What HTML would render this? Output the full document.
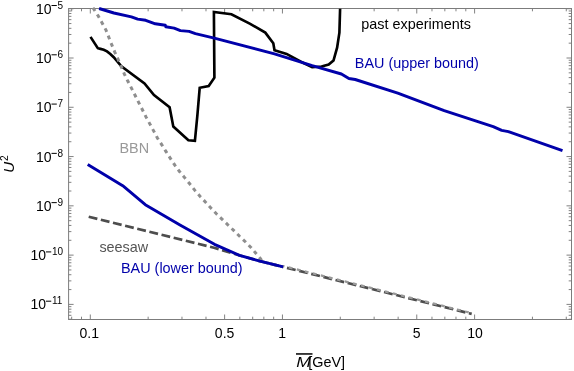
<!DOCTYPE html>
<html><head><meta charset="utf-8"><title>plot</title>
<style>
html,body{margin:0;padding:0;background:#fff;}
svg{display:block;font-family:"Liberation Sans",sans-serif;will-change:transform;opacity:0.999;}
</style></head>
<body>
<svg width="574" height="371" viewBox="0 0 574 371">
<rect width="574" height="371" fill="#fff"/>
<defs><clipPath id="c"><rect x="68.6" y="6.9" width="502.9" height="312.6"/></clipPath></defs>
<path d="M71.68 319.50v-2.8M71.68 8.50v2.8M81.51 319.50v-2.8M81.51 8.50v2.8M90.30 319.50v-5.0M90.30 8.50v5.0M148.14 319.50v-2.8M148.14 8.50v2.8M181.98 319.50v-2.8M181.98 8.50v2.8M205.99 319.50v-2.8M205.99 8.50v2.8M224.61 319.50v-5.0M224.61 8.50v5.0M239.82 319.50v-2.8M239.82 8.50v2.8M252.69 319.50v-2.8M252.69 8.50v2.8M263.83 319.50v-2.8M263.83 8.50v2.8M273.66 319.50v-2.8M273.66 8.50v2.8M282.45 319.50v-5.0M282.45 8.50v5.0M340.29 319.50v-2.8M340.29 8.50v2.8M374.13 319.50v-2.8M374.13 8.50v2.8M398.14 319.50v-2.8M398.14 8.50v2.8M416.76 319.50v-5.0M416.76 8.50v5.0M431.97 319.50v-2.8M431.97 8.50v2.8M444.84 319.50v-2.8M444.84 8.50v2.8M455.98 319.50v-2.8M455.98 8.50v2.8M465.81 319.50v-2.8M465.81 8.50v2.8M474.60 319.50v-5.0M474.60 8.50v5.0M532.44 319.50v-2.8M532.44 8.50v2.8M566.28 319.50v-2.8M566.28 8.50v2.8M68.60 319.23h2.8M571.50 319.23h-2.8M68.60 315.33h2.8M571.50 315.33h-2.8M68.60 312.03h2.8M571.50 312.03h-2.8M68.60 309.18h2.8M571.50 309.18h-2.8M68.60 306.65h2.8M571.50 306.65h-2.8M68.60 304.40h5.0M571.50 304.40h-5.0M68.60 289.57h2.8M571.50 289.57h-2.8M68.60 280.89h2.8M571.50 280.89h-2.8M68.60 274.73h2.8M571.50 274.73h-2.8M68.60 269.95h2.8M571.50 269.95h-2.8M68.60 266.05h2.8M571.50 266.05h-2.8M68.60 262.75h2.8M571.50 262.75h-2.8M68.60 259.90h2.8M571.50 259.90h-2.8M68.60 257.37h2.8M571.50 257.37h-2.8M68.60 255.12h5.0M571.50 255.12h-5.0M68.60 240.29h2.8M571.50 240.29h-2.8M68.60 231.61h2.8M571.50 231.61h-2.8M68.60 225.45h2.8M571.50 225.45h-2.8M68.60 220.67h2.8M571.50 220.67h-2.8M68.60 216.77h2.8M571.50 216.77h-2.8M68.60 213.47h2.8M571.50 213.47h-2.8M68.60 210.62h2.8M571.50 210.62h-2.8M68.60 208.09h2.8M571.50 208.09h-2.8M68.60 205.84h5.0M571.50 205.84h-5.0M68.60 191.01h2.8M571.50 191.01h-2.8M68.60 182.33h2.8M571.50 182.33h-2.8M68.60 176.17h2.8M571.50 176.17h-2.8M68.60 171.39h2.8M571.50 171.39h-2.8M68.60 167.49h2.8M571.50 167.49h-2.8M68.60 164.19h2.8M571.50 164.19h-2.8M68.60 161.34h2.8M571.50 161.34h-2.8M68.60 158.81h2.8M571.50 158.81h-2.8M68.60 156.56h5.0M571.50 156.56h-5.0M68.60 141.73h2.8M571.50 141.73h-2.8M68.60 133.05h2.8M571.50 133.05h-2.8M68.60 126.89h2.8M571.50 126.89h-2.8M68.60 122.11h2.8M571.50 122.11h-2.8M68.60 118.21h2.8M571.50 118.21h-2.8M68.60 114.91h2.8M571.50 114.91h-2.8M68.60 112.06h2.8M571.50 112.06h-2.8M68.60 109.53h2.8M571.50 109.53h-2.8M68.60 107.28h5.0M571.50 107.28h-5.0M68.60 92.45h2.8M571.50 92.45h-2.8M68.60 83.77h2.8M571.50 83.77h-2.8M68.60 77.61h2.8M571.50 77.61h-2.8M68.60 72.83h2.8M571.50 72.83h-2.8M68.60 68.93h2.8M571.50 68.93h-2.8M68.60 65.63h2.8M571.50 65.63h-2.8M68.60 62.78h2.8M571.50 62.78h-2.8M68.60 60.25h2.8M571.50 60.25h-2.8M68.60 58.00h5.0M571.50 58.00h-5.0M68.60 43.17h2.8M571.50 43.17h-2.8M68.60 34.49h2.8M571.50 34.49h-2.8M68.60 28.33h2.8M571.50 28.33h-2.8M68.60 23.55h2.8M571.50 23.55h-2.8M68.60 19.65h2.8M571.50 19.65h-2.8M68.60 16.35h2.8M571.50 16.35h-2.8M68.60 13.50h2.8M571.50 13.50h-2.8M68.60 10.97h2.8M571.50 10.97h-2.8M68.60 8.72h5.0M571.50 8.72h-5.0" stroke="#747474" stroke-width="0.9" fill="none"/>
<rect x="68.6" y="8.5" width="502.9" height="311.0" fill="none" stroke="#7c7c7c" stroke-width="1"/>
<g clip-path="url(#c)">
<polyline points="90.5,36.9 97.8,48.2 100.5,48.9 103.7,49.8 107.0,51.4 110.3,54.0 113.7,57.2 121.4,66.4 144.5,83.5 154.0,95.1 169.6,107.2 173.3,126.5 188.4,140.3 194.9,140.8 197.4,115.2 199.7,87.8 208.7,86.0 214.4,77.7 213.9,11.9 231.4,14.3 250.2,23.8 265.3,32.6 273.3,43.2 274.5,50.2 286.6,53.9 300.4,61.5 312.2,67.2 321.5,66.5 328.7,64.6 333.5,60.5 337.1,47.7 339.4,32.6 340.1,8.8" fill="none" stroke="#000" stroke-width="2.65" stroke-linejoin="miter" stroke-miterlimit="3"/>
<polyline points="88.7,216.8 214.0,247.7 239.4,255.3 259.9,261.1 283.2,266.9" fill="none" stroke="#4d4d4d" stroke-width="2.7" stroke-dasharray="8.9 3.6"/>
<polyline points="283.2,266.9 471.7,313.9" fill="none" stroke="#4d4d4d" stroke-width="2.7" stroke-dasharray="8.9 3.6" stroke-dashoffset="8.6"/>
<polyline points="93.0,7.7 93.9,9.3 98.1,15.8 102.1,22.9 106.0,30.1 108.9,37.5 111.7,44.7 114.8,52.1 118.1,59.4 121.3,66.8 124.5,74.3 127.9,81.3 131.7,88.6 135.3,95.7 138.9,102.9 142.4,109.7 146.1,117.1 150.1,124.4 153.9,131.4 157.5,138.2 161.7,144.6 166.2,151.9 170.5,158.6 175.0,165.4 179.7,171.7 184.6,177.6 189.7,183.8 194.9,190.4 200.2,196.4 205.6,202.2 211.1,208.2 216.4,213.8 222.2,219.3 228.0,225.0 233.9,230.6 239.3,236.0 245.3,241.7 250.9,247.4 256.3,253.8 260.3,258.4 262.6,261.8 283.2,266.9" fill="none" stroke="#8e8e8e" stroke-width="3.0" stroke-dasharray="3.9 4.07"/>
<polyline points="283.2,266.0 471.7,313.1" fill="none" stroke="#999" stroke-width="2.2" stroke-dasharray="3.8 4.46" stroke-dashoffset="2.5"/>
<polyline points="87.7,164.4 122.7,185.7 145.3,204.7 180.0,224.9 214.5,244.3 239.4,255.3 259.9,261.1 283.2,266.9" fill="none" stroke="#0000aa" stroke-width="2.9" stroke-linejoin="round"/>
<polyline points="99.1,8.5 113.9,13.0 131.4,16.8 137.7,19.1 145.7,20.3 155.3,23.8 165.3,25.3 165.8,26.8 174.1,28.1 180.4,30.6 189.1,31.4 195.4,33.6 214.3,38.1 274.5,53.9 312.2,65.7 341.4,74.0 348.9,78.5 355.2,79.5 397.8,93.1 444.2,110.7 493.2,126.6 501.7,130.3 508.4,131.6 562.5,150.6" fill="none" stroke="#0000aa" stroke-width="2.9" stroke-linejoin="round"/>
</g>
<g fill="#000">
<text x="51.60" y="13.72" text-anchor="end" font-size="14">10</text><path d="M51.50 5.52h5.3" stroke="#000" stroke-width="1"/><text x="57.60" y="8.72" font-size="10">5</text>
<text x="51.60" y="63.00" text-anchor="end" font-size="14">10</text><path d="M51.50 54.80h5.3" stroke="#000" stroke-width="1"/><text x="57.60" y="58.00" font-size="10">6</text>
<text x="51.60" y="112.28" text-anchor="end" font-size="14">10</text><path d="M51.50 104.08h5.3" stroke="#000" stroke-width="1"/><text x="57.60" y="107.28" font-size="10">7</text>
<text x="51.60" y="161.56" text-anchor="end" font-size="14">10</text><path d="M51.50 153.36h5.3" stroke="#000" stroke-width="1"/><text x="57.60" y="156.56" font-size="10">8</text>
<text x="51.60" y="210.84" text-anchor="end" font-size="14">10</text><path d="M51.50 202.64h5.3" stroke="#000" stroke-width="1"/><text x="57.60" y="205.84" font-size="10">9</text>
<text x="46.04" y="260.12" text-anchor="end" font-size="14">10</text><path d="M45.94 251.92h5.3" stroke="#000" stroke-width="1"/><text x="52.04" y="255.12" font-size="10">10</text>
<text x="46.04" y="309.40" text-anchor="end" font-size="14">10</text><path d="M45.94 301.20h5.3" stroke="#000" stroke-width="1"/><text x="52.04" y="304.40" font-size="10">11</text>
<text x="89.3" y="338.2" text-anchor="middle" font-size="14">0.1</text>
<text x="224.6" y="338.2" text-anchor="middle" font-size="14">0.5</text>
<text x="282.1" y="338.2" text-anchor="middle" font-size="14">1</text>
<text x="416.6" y="338.2" text-anchor="middle" font-size="14">5</text>
<text x="475.0" y="338.2" text-anchor="middle" font-size="14">10</text>
<text x="361.3" y="28.8" font-size="14.4">past experiments</text>
<text x="354.8" y="67.7" font-size="14.4" fill="#0000aa">BAU (upper bound)</text>
<text x="119.5" y="153" font-size="14.4" fill="#999">BBN</text>
<text x="99.4" y="251.8" font-size="14.4" fill="#555">seesaw</text>
<text x="121" y="273.0" font-size="14.4" fill="#0000aa">BAU (lower bound)</text>
<text transform="translate(296.2,366.5) scale(1.22,1)" font-size="14.4" font-style="italic">M</text>
<text x="308.3" y="366.5" font-size="14.4">[GeV]</text>
<path d="M296 353.95h16.5" stroke="#000" stroke-width="1.5"/>
<g transform="translate(13.8,172.7) rotate(-90)"><text transform="scale(1,1.03)" font-size="15" font-style="italic">U</text><text x="11.6" y="-6.0" font-size="10.2">2</text></g>
</g>
</svg>
</body></html>
